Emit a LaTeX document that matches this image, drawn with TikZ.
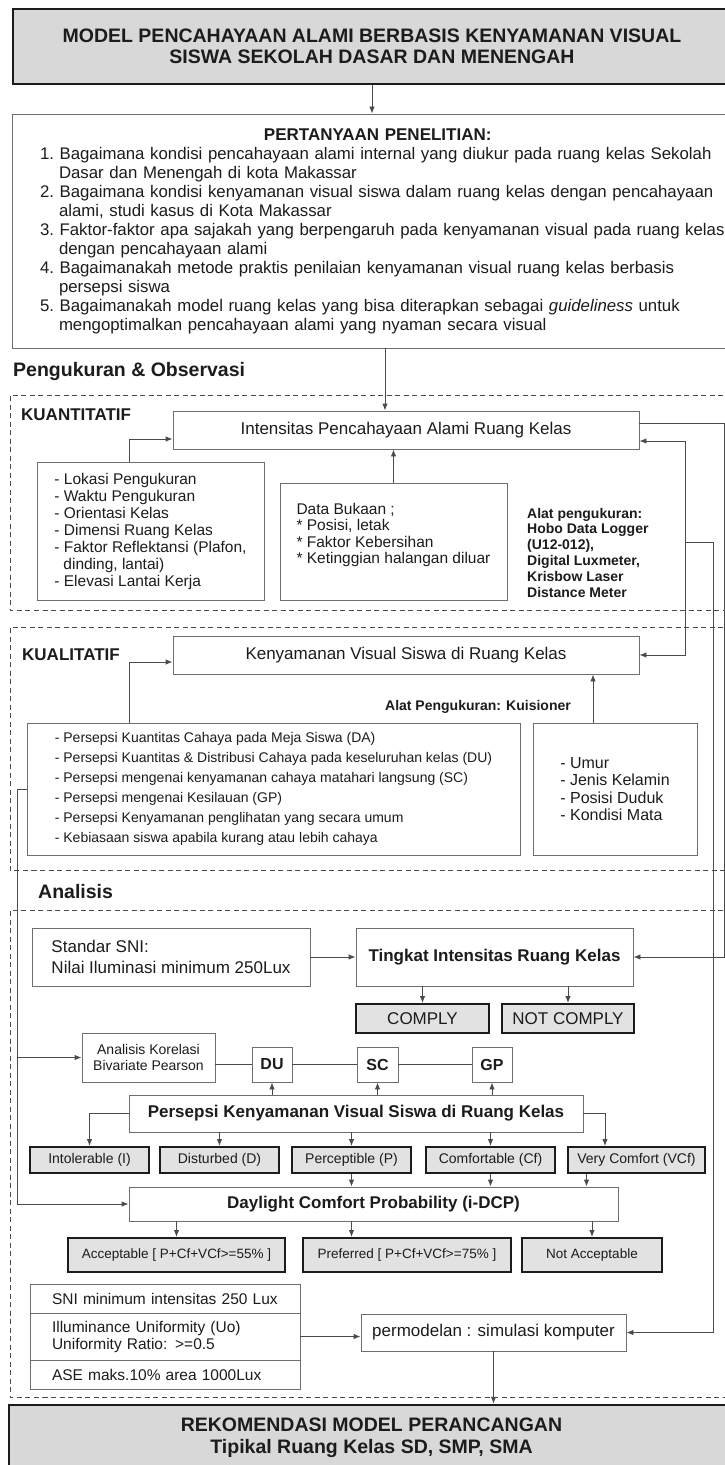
\documentclass[tikz,border=0pt]{standalone}
\usepackage{fontspec}
\setmainfont{Liberation Sans}
\usetikzlibrary{arrows.meta,positioning}
\definecolor{ink}{HTML}{1C1C1C}
\definecolor{boxgray}{HTML}{6E6E6E}
\definecolor{wiregray}{HTML}{4A4A4A}
\definecolor{fillgray}{HTML}{E2E2E2}
\definecolor{titlegray}{HTML}{D8D8D8}

\begin{document}
\begin{tikzpicture}[x=1pt,y=-1pt,>={Latex[length=7pt,width=5.5pt]},
  box/.style={draw=boxgray,line width=0.9pt,fill=white,text=ink,inner sep=0pt},
  heavy/.style={draw=ink,line width=2pt,fill=fillgray,text=ink,inner sep=0pt},
  zone/.style={draw=wiregray,line width=0.8pt,dash pattern=on 5pt off 3.5pt},
  wire/.style={draw=wiregray,line width=0.9pt},
  head/.style={text=ink,inner sep=0pt,font=\bfseries\fontsize{19.5}{22}\selectfont},
  tag/.style={text=ink,inner sep=0pt,font=\bfseries\fontsize{17}{19}\selectfont}]
  \path[use as bounding box,fill=white] (0,0) rectangle (725,1465);

  \node[heavy,fill=titlegray,line width=2.5pt,minimum width=718pt,minimum height=75pt,align=center,font=\bfseries\fontsize{19.5}{21}\selectfont] (title) at (372,46.5) {MODEL PENCAHAYAAN ALAMI BERBASIS KENYAMANAN VISUAL\\SISWA SEKOLAH DASAR DAN MENENGAH};
  \node[box,text width=700pt,inner xsep=28pt,minimum height=234pt,align=left,font=\fontsize{16.8}{19}\selectfont\frenchspacing] (quest) at (390,231) {\hyphenpenalty=10000\relax\hspace*{224pt}{\bfseries\fontsize{17}{19}\selectfont PERTANYAAN PENELITIAN:}\\
    1. Bagaimana kondisi pencahayaan alami internal yang diukur pada ruang kelas Sekolah\\
    \hspace*{19pt}Dasar dan Menengah di kota Makassar\\
    2. Bagaimana kondisi kenyamanan visual siswa dalam ruang kelas dengan pencahayaan\\
    \hspace*{19pt}alami, studi kasus di Kota Makassar\\
    3. Faktor-faktor apa sajakah yang berpengaruh pada kenyamanan visual pada ruang kelas\\
    \hspace*{19pt}dengan pencahayaan alami\\
    4. Bagaimanakah metode praktis penilaian kenyamanan visual ruang kelas berbasis\\
    \hspace*{19pt}persepsi siswa\\
    5. Bagaimanakah model ruang kelas yang bisa diterapkan sebagai \textit{guideliness} untuk\\
    \hspace*{19pt}mengoptimalkan pencahayaan alami yang nyaman secara visual};

  \node[head,anchor=west] (ukur) at (13,371) {Pengukuran \& Observasi};
  \draw[zone] (740,395) -| (10,610) -- (740,610);
  \node[tag,anchor=west] (kuanti) at (21,415) {KUANTITATIF};
  \node[box,minimum width=466pt,minimum height=38pt,font=\fontsize{17}{19}\selectfont] (intens) at (406,430) {Intensitas Pencahayaan Alami Ruang Kelas};
  \node[box,minimum width=227pt,minimum height=138pt,align=left,font=\fontsize{15.5}{17}\selectfont] (lokasi) at (150.5,531) {- Lokasi Pengukuran\\- Waktu Pengukuran\\- Orientasi Kelas\\- Dimensi Ruang Kelas\\- Faktor Reflektansi (Plafon,\\\hspace*{9pt}dinding, lantai)\\- Elevasi Lantai Kerja};
  \node[box,minimum width=227pt,minimum height=117pt,align=left,font=\fontsize{15.5}{16.5}\selectfont] (bukaan) at (393.5,541.5) {Data Bukaan ;\\{}* Posisi, letak\\{}* Faktor Kebersihan\\{}* Ketinggian halangan diluar\\\mbox{}};
  \node[anchor=west,align=left,inner sep=0pt,text=ink,font=\bfseries\fontsize{14}{15.8}\selectfont] (alat) at (527,552.5) {Alat pengukuran:\\Hobo Data Logger\\(U12-012),\\Digital Luxmeter,\\Krisbow Laser\\Distance Meter};

  \draw[zone] (740,627) -| (10,870) -- (740,870);
  \node[tag,anchor=west] (kuali) at (22,655) {KUALITATIF};
  \node[box,minimum width=466pt,minimum height=38pt,font=\fontsize{17}{19}\selectfont] (nyaman) at (406,655) {Kenyamanan Visual Siswa di Ruang Kelas};
  \node[anchor=east,inner sep=0pt,text=ink,font=\bfseries\fontsize{14}{16}\selectfont] (kuisioner) at (571,707) {Alat Pengukuran: Kuisioner};
  \node[box,minimum width=493pt,minimum height=132pt,align=left,font=\fontsize{14}{20}\selectfont] (percep) at (273.5,789) {- Persepsi Kuantitas Cahaya pada Meja Siswa (DA)\\- Persepsi Kuantitas \& Distribusi Cahaya pada keseluruhan kelas (DU)\\- Persepsi mengenai kenyamanan cahaya matahari langsung (SC)\\- Persepsi mengenai Kesilauan (GP)\\- Persepsi Kenyamanan penglihatan yang secara umum\\- Kebiasaan siswa apabila kurang atau lebih cahaya};
  \node[box,minimum width=164pt,minimum height=132pt,align=left,font=\fontsize{16}{17.5}\selectfont] (demog) at (615,789) {- Umur\\- Jenis Kelamin\\- Posisi Duduk\\- Kondisi Mata};

  \node[head,anchor=west] (analisis) at (38,892) {Analisis};
  \draw[zone] (740,910) -| (10,1397) -- (740,1397);
  \node[box,minimum width=278pt,minimum height=58pt,align=left,font=\fontsize{17}{21}\selectfont] (standar) at (171,957) {Standar SNI:\\Nilai Iluminasi minimum 250Lux};
  \node[box,minimum width=277pt,minimum height=58pt,font=\bfseries\fontsize{17}{19}\selectfont] (tingkat) at (494.5,957) {Tingkat Intensitas Ruang Kelas};
  \node[heavy,minimum width=133pt,minimum height=29pt,font=\fontsize{17}{19}\selectfont] (comply) at (422.5,1018.5) {COMPLY};
  \node[heavy,minimum width=132pt,minimum height=29pt,font=\fontsize{17}{19}\selectfont] (notcomply) at (568,1018.5) {NOT COMPLY};
  \node[box,minimum width=133pt,minimum height=49pt,align=center,font=\fontsize{14}{16}\selectfont] (korel) at (148.5,1057.5) {Analisis Korelasi\\Bivariate Pearson};
  \node[box,minimum width=40pt,minimum height=35pt,font=\bfseries\fontsize{16}{18}\selectfont] (du) at (272,1064.5) {DU};
  \node[box,minimum width=41pt,minimum height=35pt,font=\bfseries\fontsize{16}{18}\selectfont] (sc) at (377.5,1064.5) {SC};
  \node[box,minimum width=40pt,minimum height=35pt,font=\bfseries\fontsize{16}{18}\selectfont] (gp) at (492,1064.5) {GP};
  \node[box,minimum width=454pt,minimum height=37pt,font=\bfseries\fontsize{17}{19}\selectfont] (persep) at (356,1113.5) {Persepsi Kenyamanan Visual Siswa di Ruang Kelas};
  \node[heavy,minimum width=119pt,minimum height=26pt,font=\fontsize{14}{16}\selectfont] (intol) at (89.5,1160) {Intolerable (I)};
  \node[heavy,minimum width=119pt,minimum height=26pt,font=\fontsize{14}{16}\selectfont] (disturb) at (219.5,1160) {Disturbed (D)};
  \node[heavy,minimum width=119pt,minimum height=26pt,font=\fontsize{14}{16}\selectfont] (percept) at (351.5,1160) {Perceptible (P)};
  \node[heavy,minimum width=129pt,minimum height=26pt,font=\fontsize{14}{16}\selectfont] (comfort) at (490.5,1160) {Comfortable (Cf)};
  \node[heavy,minimum width=137pt,minimum height=26pt,font=\fontsize{14}{16}\selectfont] (vcf) at (636.5,1160) {Very Comfort (VCf)};
  \node[box,minimum width=489pt,minimum height=34pt,font=\bfseries\fontsize{17}{19}\selectfont] (dcp) at (373.5,1204) {Daylight Comfort Probability (i-DCP)};
  \node[heavy,minimum width=217pt,minimum height=34pt,font=\fontsize{13.5}{16}\selectfont] (accept) at (176.5,1255) {Acceptable [ P+Cf+VCf>=55\% ]};
  \node[heavy,minimum width=208pt,minimum height=34pt,font=\fontsize{13.5}{16}\selectfont] (prefer) at (407,1255) {Preferred [ P+Cf+VCf>=75\% ]};
  \node[heavy,minimum width=140pt,minimum height=34pt,font=\fontsize{13.5}{16}\selectfont] (notacc) at (592,1255) {Not Acceptable};
  \node[box,text width=226pt,inner xsep=22pt,minimum height=29pt,align=left,font=\fontsize{15.5}{17}\selectfont] (sni1) at (165,1298.5) {SNI minimum intensitas 250 Lux};
  \node[box,text width=226pt,inner xsep=22pt,minimum height=47pt,align=left,font=\fontsize{15.5}{17}\selectfont] (sni2) at (165,1336.5) {Illuminance Uniformity (Uo)\\Uniformity Ratio: >=0.5};
  \node[box,text width=226pt,inner xsep=22pt,minimum height=29pt,align=left,font=\fontsize{15.5}{17}\selectfont] (sni3) at (165,1374.5) {ASE maks.10\% area 1000Lux};
  \node[box,minimum width=265pt,minimum height=37pt,font=\fontsize{17}{19}\selectfont] (permodel) at (493.5,1332.5) {permodelan : simulasi komputer};
  \node[heavy,fill=titlegray,line width=2.5pt,minimum width=725pt,minimum height=66pt,align=center,font=\bfseries\fontsize{19.5}{22}\selectfont] (rekom) at (371.5,1438) {REKOMENDASI MODEL PERANCANGAN\\Tipikal Ruang Kelas SD, SMP, SMA};

  \coordinate (railA) at (724,423);
  \coordinate (alatjoin) at (685,542);
  \coordinate (railB) at (713,542);
  \coordinate (railL) at (17,789);

  \draw[wire,->] (title.south) -- (title.south |- quest.north);
  \draw[wire,->] ([xshift=-5pt]quest.south) -- ([xshift=-5pt]quest.south |- intens.north);
  \draw[wire,->] ([xshift=-21.5pt]lokasi.north) |- ([yshift=-9pt]intens.west);
  \draw[wire,->] (bukaan.north) -- (bukaan.north |- intens.south);
  \draw[wire,->] ([yshift=7pt]intens.east) -- (railA) |- (tingkat.east);
  \draw[wire,->] (alatjoin) |- ([yshift=-11pt]intens.east);
  \draw[wire,->] (alatjoin) |- (nyaman.east);
  \draw[wire,->] (alatjoin) -- (railB) |- (permodel.east);
  \draw[wire,->] ([xshift=-144.5pt]percep.north) |- ([yshift=-7pt]nyaman.west);
  \draw[wire,->] ([xshift=-22pt]demog.north) -- ([xshift=-22pt]demog.north |- nyaman.south);
  \draw[wire,->] (percep.west) -- (railL) |- (dcp.west);
  \draw[wire,->] (railL |- korel.west) -- (korel.west);

  \draw[wire,->] (standar) -- (tingkat);
  \draw[wire,->] (tingkat.south -| comply) -- (comply.north);
  \draw[wire,->] (tingkat.south -| notcomply) -- (notcomply.north);
  \draw[wire] (korel.east |- du.west) -- (du.west);
  \draw[wire] (du) -- (sc);
  \draw[wire] (sc) -- (gp);
  \draw[wire,->] (persep.north -| du) -- (du.south);
  \draw[wire,->] (persep.north -| sc) -- (sc.south);
  \draw[wire,->] (persep.north -| gp) -- (gp.south);
  \draw[wire,->] (persep.west) -| (intol.north);
  \draw[wire,->] (persep.south -| disturb) -- (disturb.north);
  \draw[wire,->] (persep.south -| percept) -- (percept.north);
  \draw[wire,->] (persep.south -| comfort) -- (comfort.north);
  \draw[wire,->] (persep.east) -| ([xshift=-31.5pt]vcf.north);
  \draw[wire,->] (percept.south) -- (percept.south |- dcp.north);
  \draw[wire,->] (comfort.south) -- (comfort.south |- dcp.north);
  \draw[wire,->] ([xshift=-50pt]vcf.south) -- ([xshift=-50pt]vcf.south |- dcp.north);
  \draw[wire,->] (dcp.south -| accept) -- (accept.north);
  \draw[wire,->] (dcp.south -| percept) -- (percept.south |- prefer.north);
  \draw[wire,->] (dcp.south -| notacc) -- (notacc.north);
  \draw[wire,->] (sni2.east) -- (sni2.east -| permodel.west);
  \draw[wire,->] (permodel.south) -- (permodel.south |- rekom.north);
\end{tikzpicture}
\end{document}
